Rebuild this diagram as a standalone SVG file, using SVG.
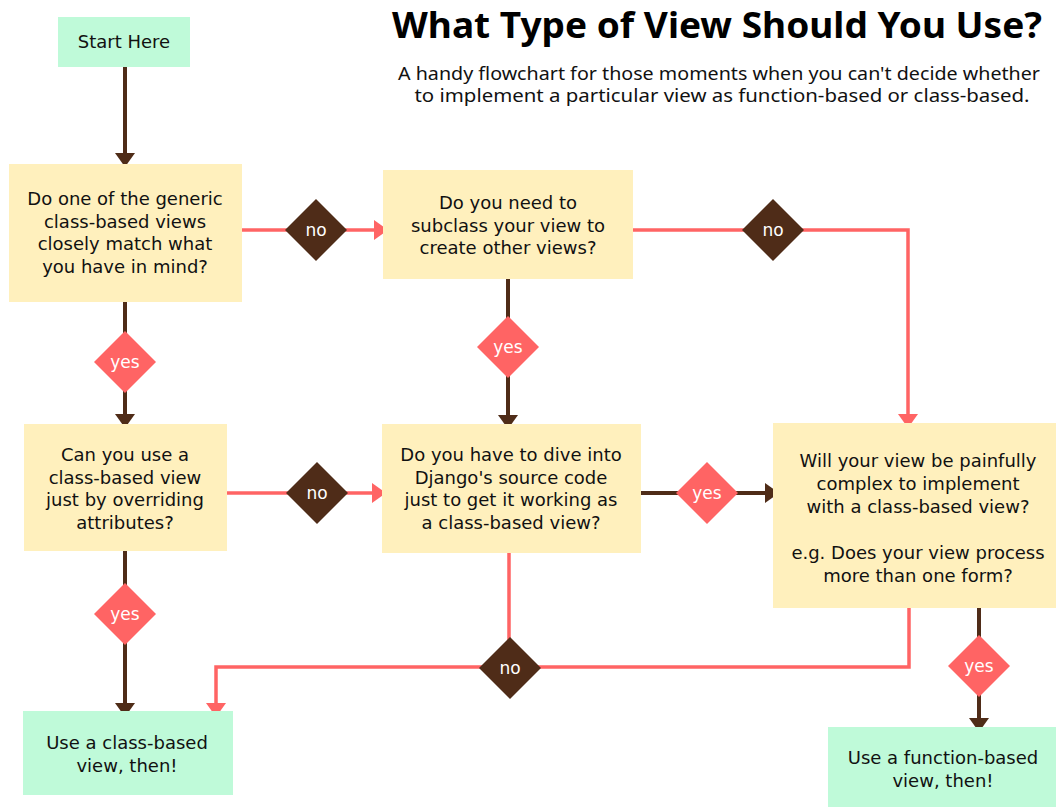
<svg xmlns="http://www.w3.org/2000/svg" width="1056" height="807" viewBox="0 0 1056 807">
  <style>
    .q { fill: #FFF0BD; }
    .t { fill: #BFFAD9; }
    .lbl { font-family: "DejaVu Sans", "Liberation Sans", sans-serif; font-size: 18px; fill: #111111; text-anchor: middle; }
    .dtxt { font-family: "DejaVu Sans", "Liberation Sans", sans-serif; font-size: 17px; fill: #FFFFFF; text-anchor: middle; }
    .dno { fill: #4F2C18; }
    .dyes { fill: #FF6464; }
    .cb { fill: none; stroke: #4F2C18; stroke-width: 4; }
    .cr { fill: none; stroke: #FF6464; stroke-width: 3.5; }
    .title { font-family: "Noto Sans", "Liberation Sans", sans-serif; font-size: 36px; font-weight: bold; fill: #000000; text-anchor: middle; }
    .sub { font-family: "Noto Sans", "Liberation Sans", sans-serif; font-size: 18px; fill: #111111; text-anchor: middle; }
  </style>
  <defs>
    <marker id="ab" viewBox="0 0 14 20" refX="13" refY="10" markerWidth="14" markerHeight="20" markerUnits="userSpaceOnUse" orient="auto">
      <path d="M0,0 L14,10 L0,20 z" fill="#4F2C18"/>
    </marker>
    <marker id="ar" viewBox="0 0 14 20" refX="13" refY="10" markerWidth="14" markerHeight="20" markerUnits="userSpaceOnUse" orient="auto">
      <path d="M0,0 L14,10 L0,20 z" fill="#FF6464"/>
    </marker>
  </defs>
  <rect width="1056" height="807" fill="#FFFFFF"/>

  <g id="title">
    <text class="title" x="717" y="38" textLength="650" lengthAdjust="spacingAndGlyphs">What Type of View Should You Use?</text>
    <text class="sub" x="719" y="80" textLength="642" lengthAdjust="spacingAndGlyphs">A handy flowchart for those moments when you can't decide whether</text>
    <text class="sub" x="722" y="102" textLength="615" lengthAdjust="spacingAndGlyphs">to implement a particular view as function-based or class-based.</text>
  </g>

  <g id="connectors">
    <path class="cb" d="M125,67 V166" marker-end="url(#ab)"/>
    <path class="cr" d="M242,230 H387" marker-end="url(#ar)"/>
    <path class="cr" d="M633,230 H908 V427" marker-end="url(#ar)"/>
    <path class="cb" d="M508,279 V428" marker-end="url(#ab)"/>
    <path class="cb" d="M125,302 V427" marker-end="url(#ab)"/>
    <path class="cr" d="M227,493 H385" marker-end="url(#ar)"/>
    <path class="cb" d="M641,493 H778" marker-end="url(#ab)"/>
    <path class="cr" d="M509,553 V667 H216 V716" marker-end="url(#ar)"/>
    <path class="cr" d="M909,608 V667 H510"/>
    <path class="cb" d="M125,551 V716" marker-end="url(#ab)"/>
    <path class="cb" d="M979,608 V731" marker-end="url(#ab)"/>
  </g>

  <g id="start">
    <rect class="t" x="58" y="17" width="132" height="50"/>
    <text class="lbl" x="124" y="48">Start Here</text>
  </g>

  <g id="q1">
    <rect class="q" x="9" y="164" width="233" height="138"/>
    <text class="lbl" x="125" y="205">Do one of the generic</text>
    <text class="lbl" x="125" y="227.5">class-based views</text>
    <text class="lbl" x="125" y="250">closely match what</text>
    <text class="lbl" x="125" y="272.5">you have in mind?</text>
  </g>

  <g id="q2">
    <rect class="q" x="383" y="170" width="250" height="109"/>
    <text class="lbl" x="508" y="209">Do you need to</text>
    <text class="lbl" x="508" y="231.5">subclass your view to</text>
    <text class="lbl" x="508" y="254">create other views?</text>
  </g>

  <g id="q3">
    <rect class="q" x="24" y="424" width="203" height="127"/>
    <text class="lbl" x="125" y="461">Can you use a</text>
    <text class="lbl" x="125" y="483.5">class-based view</text>
    <text class="lbl" x="125" y="506">just by overriding</text>
    <text class="lbl" x="125" y="528.5">attributes?</text>
  </g>

  <g id="q4">
    <rect class="q" x="382" y="424" width="259" height="129"/>
    <text class="lbl" x="511" y="461">Do you have to dive into</text>
    <text class="lbl" x="511" y="483.5">Django's source code</text>
    <text class="lbl" x="511" y="506">just to get it working as</text>
    <text class="lbl" x="511" y="528.5">a class-based view?</text>
  </g>

  <g id="q5">
    <rect class="q" x="773" y="423" width="283" height="185"/>
    <text class="lbl" x="918" y="467">Will your view be painfully</text>
    <text class="lbl" x="918" y="489.5">complex to implement</text>
    <text class="lbl" x="918" y="513">with a class-based view?</text>
    <text class="lbl" x="918" y="559">e.g. Does your view process</text>
    <text class="lbl" x="918" y="582">more than one form?</text>
  </g>

  <g id="end-class">
    <rect class="t" x="23" y="711" width="210" height="84"/>
    <text class="lbl" x="127" y="749">Use a class-based</text>
    <text class="lbl" x="127" y="772">view, then!</text>
  </g>

  <g id="end-function">
    <rect class="t" x="828" y="727" width="228" height="80"/>
    <text class="lbl" x="943" y="764">Use a function-based</text>
    <text class="lbl" x="943" y="787">view, then!</text>
  </g>

  <g id="d-no1">
    <polygon class="dno" points="316,199 347,230 316,261 285,230"/>
    <text class="dtxt" x="316" y="236">no</text>
  </g>
  <g id="d-no2">
    <polygon class="dno" points="773,199 804,230 773,261 742,230"/>
    <text class="dtxt" x="773" y="236">no</text>
  </g>
  <g id="d-yes1">
    <polygon class="dyes" points="125,331 156,362 125,393 94,362"/>
    <text class="dtxt" x="125" y="368">yes</text>
  </g>
  <g id="d-yes2">
    <polygon class="dyes" points="508,316 539,347 508,378 477,347"/>
    <text class="dtxt" x="508" y="353">yes</text>
  </g>
  <g id="d-no3">
    <polygon class="dno" points="317,462 348,493 317,524 286,493"/>
    <text class="dtxt" x="317" y="499">no</text>
  </g>
  <g id="d-yes3">
    <polygon class="dyes" points="707,462 738,493 707,524 676,493"/>
    <text class="dtxt" x="707" y="499">yes</text>
  </g>
  <g id="d-yes4">
    <polygon class="dyes" points="125,583 156,614 125,645 94,614"/>
    <text class="dtxt" x="125" y="620">yes</text>
  </g>
  <g id="d-no4">
    <polygon class="dno" points="510,637 541,668 510,699 479,668"/>
    <text class="dtxt" x="510" y="674">no</text>
  </g>
  <g id="d-yes5">
    <polygon class="dyes" points="979,635 1010,666 979,697 948,666"/>
    <text class="dtxt" x="979" y="672">yes</text>
  </g>
</svg>
